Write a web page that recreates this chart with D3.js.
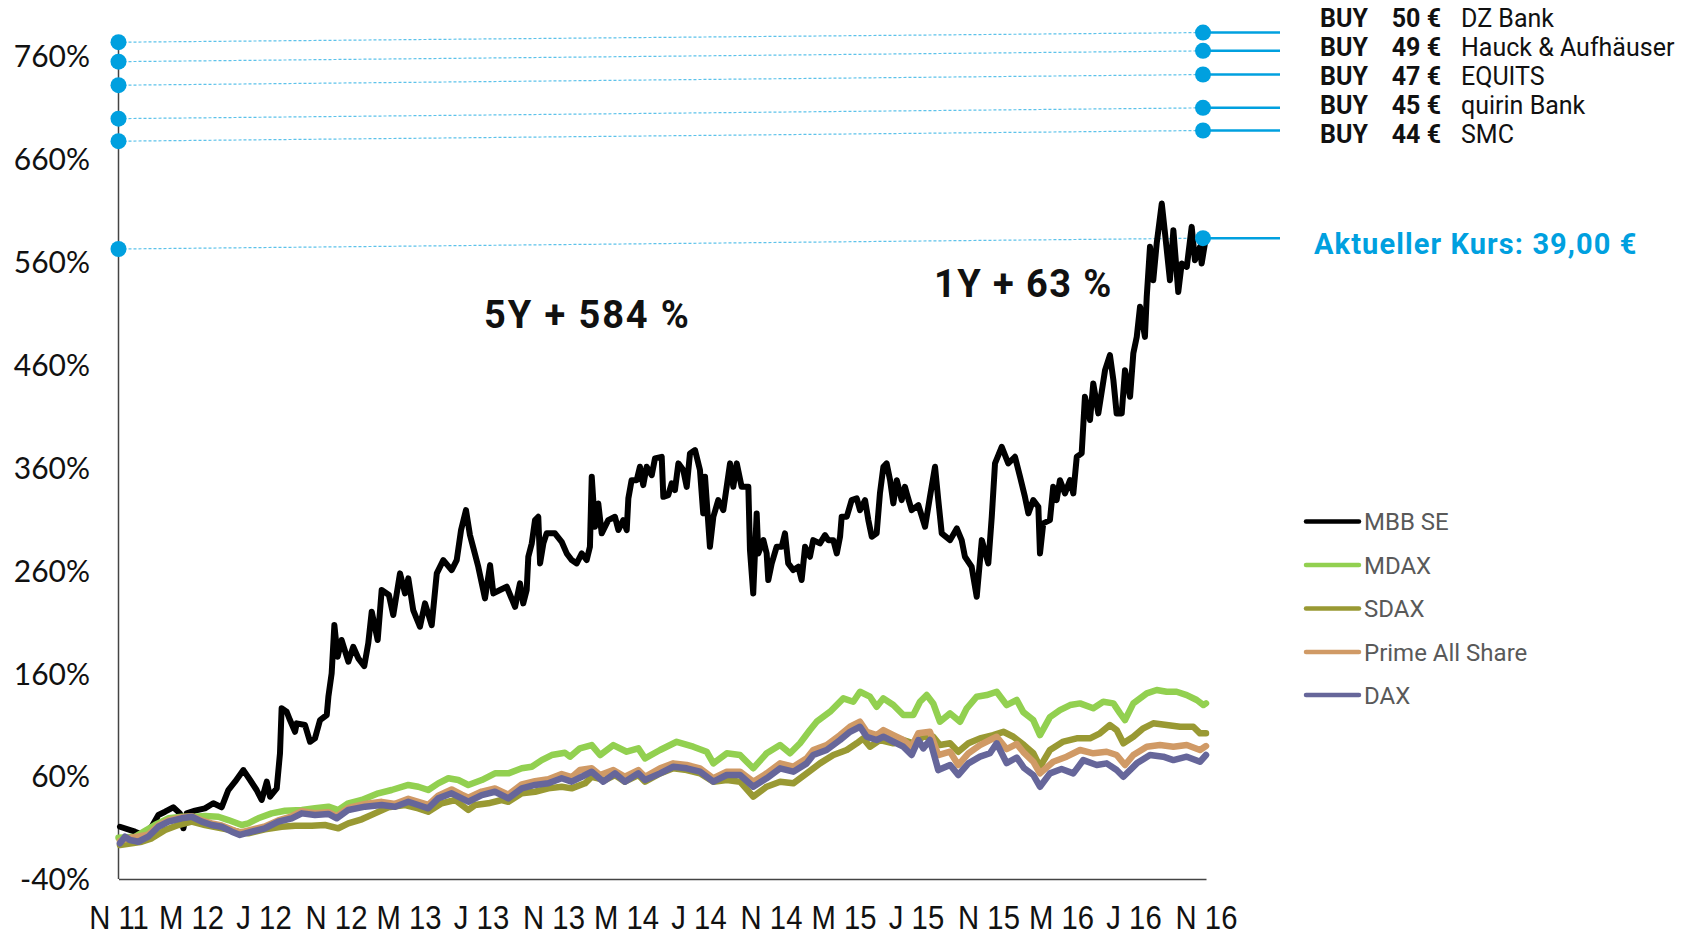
<!DOCTYPE html>
<html><head><meta charset="utf-8">
<script src="https://cdn.jsdelivr.net/npm/d3@7"></script>
<style>html,body{margin:0;padding:0;background:#fff;overflow:hidden}</style>
</head><body>
<svg id="chart" width="1689" height="936"></svg>
<script>
// ---------- DATA ----------
// time axis: months since Nov 2011 (0 = Nov 11, 60 = Nov 16)
const xTickValues = [0,4,8,12,16,20,24,28,32,36,40,44,48,52,56,60];
const xTickLabels = ["N 11","M 12","J 12","N 12","M 13","J 13","N 13","M 14","J 14","N 14","M 15","J 15","N 15","M 16","J 16","N 16"];
const yTickValues = [-40,60,160,260,360,460,560,660,760];

const seriesNames = ["MBB SE","MDAX","SDAX","Prime All Share","DAX"];
const seriesColors = ["#000000","#92d050","#999933","#d09a66","#66669a"];

const mbbSE = [[0.08,10.8],[0.91,6.0],[1.37,2.8],[1.83,10.8],[2.20,22.2],[2.57,25.4],[3.02,29.7],[3.39,23.8],[3.58,9.3],[3.76,23.8],[4.22,26.4],[4.77,28.7],[5.23,33.6],[5.69,29.7],[6.06,46.5],[6.43,54.6],[6.89,65.9],[7.26,56.2],[7.62,46.5],[7.90,36.8],[8.18,54.6],[8.36,40.0],[8.73,48.1],[8.91,82.2],[9.00,125.9],[9.28,122.6],[9.46,114.5],[9.74,103.1],[9.83,111.3],[10.29,109.7],[10.57,93.4],[10.84,96.7],[11.12,114.5],[11.49,119.4],[11.58,137.2],[11.76,159.9],[11.91,206.8],[12.09,176.0],[12.31,192.3],[12.68,171.2],[12.95,185.7],[13.23,174.5],[13.56,167.0],[13.78,189.1],[13.97,219.8],[14.30,192.3],[14.52,240.9],[14.92,236.0],[15.16,216.6],[15.53,257.1],[15.81,237.6],[15.99,252.2],[16.26,221.4],[16.63,205.2],[16.91,227.9],[17.28,206.8],[17.56,257.1],[17.92,270.0],[18.38,260.3],[18.66,270.0],[18.90,299.2],[19.17,318.6],[19.39,294.3],[19.61,279.7],[19.85,263.5],[20.22,232.8],[20.50,265.1],[20.68,237.6],[21.05,240.9],[21.42,244.1],[21.88,224.6],[22.15,247.4],[22.33,227.9],[22.52,240.9],[22.61,273.2],[22.80,286.2],[22.98,308.9],[23.16,312.1],[23.26,266.8],[23.44,286.2],[23.62,296.0],[24.08,296.0],[24.45,287.8],[24.73,276.5],[25.00,270.0],[25.28,266.8],[25.56,276.5],[25.83,270.0],[26.01,282.9],[26.11,351.0],[26.29,302.4],[26.47,325.1],[26.66,296.0],[27.02,308.9],[27.39,312.1],[27.58,299.2],[27.85,308.9],[28.04,299.2],[28.13,330.0],[28.31,347.7],[28.59,347.7],[28.77,360.7],[28.95,342.9],[29.14,360.7],[29.42,352.6],[29.60,368.8],[29.97,370.4],[30.06,331.5],[30.33,333.2],[30.52,344.5],[30.70,338.0],[30.89,364.0],[31.16,357.5],[31.35,341.2],[31.53,373.7],[31.81,376.9],[32.08,357.5],[32.26,315.4],[32.36,351.0],[32.63,282.9],[32.82,312.1],[33.09,328.3],[33.37,318.6],[33.74,364.0],[33.92,341.2],[34.11,364.0],[34.38,341.2],[34.75,341.2],[34.84,279.7],[35.02,237.6],[35.21,315.4],[35.30,276.5],[35.58,289.4],[35.76,276.5],[35.85,250.6],[36.04,266.8],[36.31,282.9],[36.59,282.9],[36.77,296.0],[36.95,266.8],[37.23,260.3],[37.51,263.5],[37.69,250.6],[37.88,282.9],[38.15,273.2],[38.33,289.4],[38.70,286.2],[38.98,294.3],[39.16,289.4],[39.44,289.4],[39.63,276.5],[39.81,292.7],[39.90,312.1],[40.18,312.1],[40.45,328.3],[40.73,330.0],[40.91,318.6],[41.19,328.3],[41.37,308.9],[41.56,292.7],[41.83,296.0],[42.01,334.8],[42.20,360.7],[42.38,364.0],[42.57,347.7],[42.75,325.1],[42.94,347.7],[43.21,328.3],[43.39,341.2],[43.49,334.8],[43.76,318.6],[44.13,323.5],[44.50,302.4],[44.77,331.5],[45.05,360.7],[45.23,328.3],[45.42,296.0],[45.88,289.4],[46.25,300.8],[46.52,289.4],[46.70,273.2],[47.07,263.5],[47.35,234.3],[47.63,289.4],[47.99,266.8],[48.18,312.1],[48.36,364.0],[48.73,380.1],[49.09,364.0],[49.46,370.4],[49.74,351.0],[50.01,331.5],[50.20,315.4],[50.47,328.3],[50.75,321.8],[50.84,276.5],[51.02,305.7],[51.39,308.9],[51.57,341.2],[51.76,328.3],[51.94,347.7],[52.22,334.8],[52.50,347.7],[52.68,334.8],[52.87,370.4],[53.14,373.7],[53.32,428.7],[53.60,406.1],[53.78,441.7],[54.06,412.6],[54.43,454.6],[54.70,469.2],[54.89,444.9],[55.07,412.6],[55.35,412.6],[55.53,454.6],[55.81,428.7],[55.99,470.9],[56.18,487.0],[56.36,516.2],[56.63,487.0],[56.73,525.9],[56.91,574.5],[57.09,542.1],[57.28,577.8],[57.56,616.6],[57.74,587.5],[58.01,542.1],[58.20,590.7],[58.47,530.7],[58.66,558.3],[58.94,555.0],[59.21,593.9],[59.39,561.5],[59.67,574.5],[59.76,558.3],[60.00,584.0]];

const mdax = [[0,0],[0.91,1.1],[2.01,12.5],[2.75,19.0],[3.49,20.5],[4.22,20.5],[4.77,21.2],[5.51,20.5],[6.06,17.3],[6.80,12.5],[7.16,14.1],[7.71,19.0],[8.45,23.8],[9.19,26.4],[10.11,27.1],[10.84,28.7],[11.58,30.3],[12.13,27.1],[12.68,33.6],[13.42,36.8],[14.33,43.3],[15.07,46.5],[15.99,51.4],[16.54,49.7],[17.09,46.5],[17.64,53.0],[18.20,57.9],[18.75,56.2],[19.30,51.4],[20.04,56.2],[20.77,62.7],[21.51,62.7],[22.25,67.6],[22.80,69.1],[23.35,75.6],[23.90,80.5],[24.63,82.7],[24.91,78.9],[25.46,87.0],[26.11,90.2],[26.57,80.5],[27.30,90.2],[28.04,83.7],[28.68,87.0],[29.05,77.3],[29.88,85.4],[30.80,93.4],[31.71,88.6],[32.45,83.7],[32.82,72.4],[33.56,82.2],[34.29,80.5],[35.02,67.6],[35.76,82.2],[36.50,90.2],[37.05,82.2],[37.60,91.9],[38.15,104.8],[38.52,112.9],[39.26,122.6],[39.99,135.6],[40.54,132.3],[40.91,142.0],[41.46,137.2],[41.83,127.4],[42.20,135.6],[42.75,129.1],[43.30,119.4],[43.85,119.4],[44.22,132.3],[44.59,138.8],[44.95,130.7],[45.32,112.9],[45.88,121.0],[46.43,112.9],[46.80,125.9],[47.35,137.2],[47.90,138.8],[48.45,142.0],[49.00,129.1],[49.56,134.0],[49.92,122.2],[50.47,114.5],[50.84,99.9],[51.39,117.4],[51.94,124.2],[52.50,129.1],[53.05,130.7],[53.78,125.9],[54.33,132.3],[54.89,130.7],[55.26,121.0],[55.53,114.5],[55.99,130.7],[56.73,140.5],[57.28,143.7],[57.83,142.0],[58.38,142.0],[58.94,138.8],[59.49,134.0],[59.86,129.1],[60.00,130.7]];

const sdax = [[0.08,-7.0],[0.73,-5.4],[1.28,-3.8],[1.83,-0.5],[2.57,7.6],[3.30,12.5],[4.04,15.7],[4.77,12.5],[5.69,9.3],[6.61,6.0],[7.16,4.4],[8.08,8.3],[9.00,10.8],[9.74,11.8],[10.66,11.8],[11.39,12.5],[12.13,9.3],[12.68,14.1],[13.42,18.0],[14.15,23.8],[14.89,29.7],[15.81,31.9],[16.54,28.7],[17.09,25.4],[17.83,33.6],[18.57,36.8],[19.30,27.1],[19.67,31.9],[20.40,33.6],[21.14,36.8],[21.51,35.1],[22.25,43.3],[22.98,44.8],[23.71,48.1],[24.45,49.7],[25.00,48.1],[25.74,53.0],[26.11,59.4],[26.84,56.2],[27.39,61.1],[27.94,54.6],[28.68,61.1],[29.05,54.6],[29.88,62.7],[30.61,67.6],[31.35,65.9],[32.08,62.7],[32.82,54.6],[33.56,56.2],[34.29,54.6],[35.02,40.0],[35.76,49.7],[36.50,54.6],[37.23,53.0],[37.97,62.7],[38.70,72.4],[39.44,80.5],[40.18,85.4],[40.73,91.9],[41.09,96.7],[41.46,88.6],[42.01,95.1],[42.75,91.9],[43.30,95.1],[43.85,91.9],[44.40,98.3],[44.95,98.3],[45.32,90.2],[45.88,91.9],[46.33,83.7],[46.89,91.9],[47.53,96.7],[48.26,99.9],[48.82,103.1],[49.37,98.3],[49.96,90.2],[50.47,82.2],[50.84,69.1],[51.39,85.4],[52.13,93.6],[52.87,96.7],[53.60,96.7],[54.15,101.6],[54.70,109.7],[55.07,104.8],[55.44,91.9],[55.99,98.3],[56.54,106.5],[57.09,111.3],[57.83,109.7],[58.57,108.0],[59.30,108.0],[59.67,101.6],[60.00,101.6]];

const primeAllShare = [[0.08,-3.0],[0.63,0.0],[1.64,3.0],[2.20,12.0],[2.75,17.0],[3.49,20.0],[4.04,21.0],[4.59,17.0],[5.14,14.0],[5.69,12.0],[6.25,8.0],[6.70,5.0],[7.35,8.0],[8.08,11.0],[8.82,17.0],[9.56,21.0],[10.11,26.0],[10.84,24.0],[11.58,25.0],[12.04,21.0],[12.68,29.0],[13.60,33.0],[14.52,35.0],[15.26,33.0],[15.99,38.0],[16.54,35.0],[17.09,32.0],[17.64,41.0],[18.38,47.0],[18.94,42.0],[19.30,39.0],[20.04,45.0],[20.77,48.0],[21.51,42.0],[22.25,52.0],[22.98,55.0],[23.71,57.0],[24.45,62.0],[25.00,59.0],[25.46,65.9],[26.11,67.6],[26.57,61.1],[27.30,65.9],[27.94,59.4],[28.68,65.9],[29.05,59.4],[29.88,67.6],[30.61,72.4],[31.35,70.8],[32.08,67.6],[32.82,57.9],[33.56,64.3],[34.29,64.3],[35.02,54.6],[35.76,62.7],[36.50,72.4],[37.23,69.1],[37.97,77.3],[38.33,85.4],[39.07,90.2],[39.81,99.9],[40.36,108.0],[40.91,112.9],[41.28,103.1],[41.83,99.9],[42.20,104.8],[42.75,99.9],[43.30,95.1],[43.76,88.6],[44.13,101.6],[44.77,103.1],[45.23,80.5],[45.88,83.7],[46.33,70.8],[46.89,82.2],[47.53,90.2],[48.08,95.1],[48.45,98.3],[49.00,86.3],[49.56,91.2],[49.92,83.4],[50.47,74.0],[50.84,62.7],[51.57,74.0],[52.31,78.9],[53.05,85.4],[53.78,82.2],[54.52,83.7],[55.07,80.5],[55.53,70.8],[55.99,80.5],[56.73,88.6],[57.46,90.2],[58.20,88.6],[58.94,90.2],[59.67,85.4],[60.00,89.2]];

const dax = [[0.08,-5.3],[0.36,1.1],[0.63,-2.1],[1.09,-3.8],[1.64,1.1],[2.20,10.8],[2.75,15.7],[3.49,19.0],[4.04,20.5],[4.59,15.7],[5.14,12.5],[5.69,10.8],[6.25,6.0],[6.70,2.8],[7.35,6.0],[8.08,9.3],[8.82,15.7],[9.56,19.0],[10.11,23.8],[10.84,22.2],[11.58,23.2],[12.04,19.0],[12.68,27.1],[13.60,30.3],[14.52,31.9],[15.26,30.3],[15.99,35.1],[16.54,31.9],[17.09,28.7],[17.64,38.4],[18.38,43.3],[18.94,38.4],[19.30,35.1],[20.04,41.6],[20.77,44.8],[21.51,38.4],[22.25,48.1],[22.98,51.4],[23.71,53.0],[24.45,57.9],[25.00,54.6],[25.56,59.4],[26.11,64.3],[26.75,54.6],[27.39,62.7],[27.94,54.6],[28.68,62.7],[29.05,56.2],[29.88,62.7],[30.61,69.1],[31.35,67.6],[32.08,64.3],[32.82,54.6],[33.56,61.1],[34.29,61.1],[35.02,49.7],[35.76,57.9],[36.50,67.6],[37.23,64.3],[37.97,72.4],[38.33,80.5],[39.07,85.4],[39.81,95.1],[40.36,103.1],[40.91,108.0],[41.28,98.3],[41.83,95.1],[42.20,98.3],[42.75,93.4],[43.30,88.6],[43.76,80.5],[44.13,95.1],[44.40,87.0],[44.77,95.1],[45.23,65.9],[45.88,70.8],[46.33,61.1],[46.89,72.4],[47.53,78.9],[48.08,82.2],[48.45,91.9],[49.00,72.7],[49.56,78.1],[49.96,67.9],[50.47,61.1],[50.84,49.7],[51.39,62.7],[52.03,66.9],[52.68,62.7],[53.23,75.6],[53.97,70.8],[54.52,72.4],[55.07,65.9],[55.44,59.4],[56.18,72.4],[56.91,80.5],[57.64,78.9],[58.20,75.6],[58.94,78.9],[59.67,74.0],[60.00,80.5]];

// analyst targets
const analystRatings = ["BUY","BUY","BUY","BUY","BUY"];
const analystTargets = [50,49,47,45,44];
const analystNames = ["DZ Bank","Hauck & Aufhäuser","EQUITS","quirin Bank","SMC"];
const targetLevelLeft = [773.4,754.5,731.6,699.1,677.2];   // % at axis start
const targetLevelRight = [782.8,765.0,742.0,709.6,687.6];  // % at series end
const currentPrice = "39,00";
const currentLevelLeft = 572.4;
const currentLevelRight = 582.9;
const perf5Y = 584, perf1Y = 63;

// ---------- CHART ----------
const svg = d3.select("#chart");
const x = d3.scaleLinear().domain([0,60]).range([118.5,1206]);
const y = d3.scaleLinear().domain([-40,760]).range([879,56]);
const blue = "#00a0df", dashBlue = "#5cc2ea";
const datasets = [mbbSE, mdax, sdax, primeAllShare, dax];

// y axis labels
const yAxis = d3.axisLeft(y).tickValues(yTickValues).tickSize(0).tickPadding(0).tickFormat(d => d + "%");
const gy = svg.append("g").attr("transform","translate(90,0)").call(yAxis);
gy.select(".domain").remove();
gy.selectAll("text").attr("font-family","Lato, 'Open Sans', sans-serif").attr("font-size",30).attr("fill","#111").attr("dy","0.36em");

// x axis
const xAxis = d3.axisBottom(x).tickValues(xTickValues).tickSize(0).tickPadding(0).tickFormat((d,i) => xTickLabels[i]);
const gx = svg.append("g").attr("transform","translate(0,879)").call(xAxis);
gx.select(".domain").attr("stroke","#444").attr("stroke-width",1.5);
gx.selectAll("text").attr("font-family","'Liberation Sans', Arial, sans-serif").attr("font-size",34).attr("fill","#111")
  .attr("y",49.5).attr("dy",0)
  .each(function(){
    const w = this.getComputedTextLength();
    d3.select(this).attr("textLength", w*0.86).attr("lengthAdjust","spacingAndGlyphs");
  });

// vertical axis line (extends up to top target dot)
svg.append("line").attr("x1",x(0)).attr("x2",x(0)).attr("y1",y(-40)).attr("y2",y(d3.max(targetLevelLeft)))
  .attr("stroke","#444").attr("stroke-width",1.5);

// dashed target lines
const allLeft = targetLevelLeft.concat([currentLevelLeft]);
const allRight = targetLevelRight.concat([currentLevelRight]);
svg.append("g").selectAll("line").data(allLeft).join("line")
  .attr("x1",x(0)).attr("y1",d=>y(d)).attr("x2",x(60)).attr("y2",(d,i)=>y(allRight[i]))
  .attr("stroke",dashBlue).attr("stroke-width",1.2).attr("stroke-dasharray","3,2");

// series lines
const line = d3.line().x(d=>x(d[0])).y(d=>y(d[1]));
svg.append("g").selectAll("path").data(datasets).join("path")
  .attr("d",line).attr("fill","none")
  .attr("stroke",(d,i)=>seriesColors[i])
  .attr("stroke-width",(d,i)=> i===0 ? 6 : 6.5)
  .attr("stroke-linejoin","round").attr("stroke-linecap","round");

// solid lead lines from right dots
svg.append("g").selectAll("line").data(allRight).join("line")
  .attr("x1",x(60)-3).attr("x2",1280).attr("y1",d=>y(d)).attr("y2",d=>y(d))
  .attr("stroke",blue).attr("stroke-width",2.5);

// dots
svg.append("g").selectAll("circle").data(allLeft).join("circle")
  .attr("cx",x(0)).attr("cy",d=>y(d)).attr("r",8).attr("fill",blue);
svg.append("g").selectAll("circle").data(allRight).join("circle")
  .attr("cx",x(60)-3).attr("cy",d=>y(d)).attr("r",8).attr("fill",blue);

// analyst labels
const lab = svg.append("g").attr("font-family","Roboto, 'Liberation Sans', sans-serif").attr("font-size",25).attr("fill","#111");
analystNames.forEach((n,i) => {
  const by = 27 + i*29;
  lab.append("text").attr("x",1320).attr("y",by).attr("font-weight",700).text(analystRatings[i]);
  lab.append("text").attr("x",1441).attr("y",by).attr("font-weight",700).attr("text-anchor","end").text(analystTargets[i] + " €");
  lab.append("text").attr("x",1461).attr("y",by).text(n);
});
svg.append("text").attr("x",1314).attr("y",254).attr("font-family","Roboto, sans-serif").attr("font-weight",700)
  .attr("font-size",29).attr("letter-spacing",1.1).attr("fill",blue).text(`Aktueller Kurs: ${currentPrice} €`);

// performance annotations
svg.append("text").attr("x",484).attr("y",328).attr("font-family","Roboto, sans-serif").attr("font-weight",700)
  .attr("font-size",38).attr("letter-spacing",1.9).attr("fill","#111").text(`5Y + ${perf5Y} %`);
svg.append("text").attr("x",934).attr("y",297).attr("font-family","Roboto, sans-serif").attr("font-weight",700)
  .attr("font-size",38).attr("letter-spacing",1.4).attr("fill","#111").text(`1Y + ${perf1Y} %`);

// legend
const legY = [521.5,565,608.5,652,695];
const leg = svg.append("g");
seriesNames.forEach((n,i) => {
  leg.append("line").attr("x1",1306).attr("x2",1359).attr("y1",legY[i]).attr("y2",legY[i])
    .attr("stroke",seriesColors[i]).attr("stroke-width",4.5).attr("stroke-linecap","round");
  leg.append("text").attr("x",1364).attr("y",legY[i]+8.5).attr("font-family","Roboto, sans-serif")
    .attr("font-size",24).attr("fill","#595959").text(n);
});
</script>
</body></html>
